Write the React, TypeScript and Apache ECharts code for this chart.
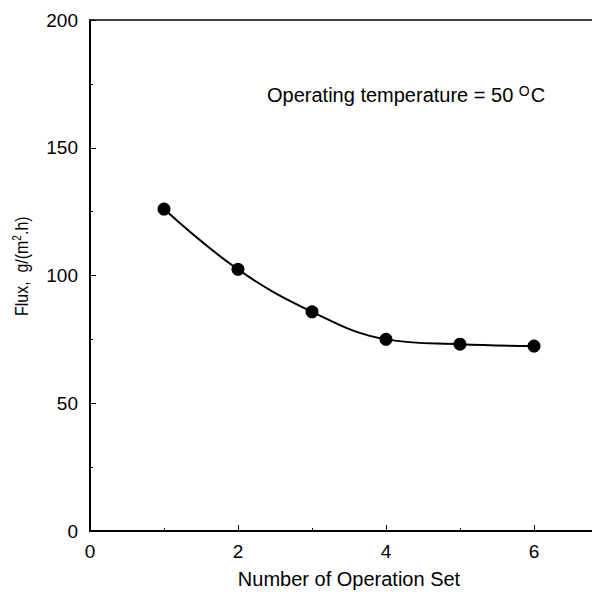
import React, { useEffect, useRef } from "react";
import * as echarts from "echarts";

const operationSets = [1, 2, 3, 4, 5, 6];
const fluxValues = [126, 102.4, 85.8, 75.0, 73.1, 72.4];
const xTicks = [0, 2, 4, 6];
const yTicks = [0, 50, 100, 150, 200];

const FONT = "'Liberation Sans', Arial, sans-serif";

export default function App() {
  const ref = useRef<HTMLDivElement>(null);

  useEffect(() => {
    if (!ref.current) return;
    const chart = echarts.init(ref.current, null, { renderer: "svg" });
    chart.setOption({
      animation: false,
      backgroundColor: "#ffffff",
      textStyle: { fontFamily: FONT, color: "#000" },
      grid: { left: 90, top: 20, width: 518, height: 511, show: true, borderColor: "#000", borderWidth: 1.5 },
      xAxis: {
        type: "value",
        min: 0,
        max: 7,
        interval: 2,
        axisLine: { show: true, lineStyle: { color: "#000", width: 2 } },
        axisTick: { inside: true, length: 6, lineStyle: { color: "#000", width: 1 } },
        minorTick: { show: true, splitNumber: 2, length: 3, lineStyle: { color: "#000" } },
        splitLine: { show: false },
        axisLabel: {
          margin: 11,
          fontSize: 19,
          color: "#000",
          fontFamily: FONT,
          formatter: (v: number) => (xTicks.includes(v) ? String(v) : ""),
        },
        name: "Number of Operation Set",
        nameLocation: "middle",
        nameGap: 38,
        nameTextStyle: { fontSize: 20, color: "#000", fontFamily: FONT },
      },
      yAxis: {
        type: "value",
        min: 0,
        max: 200,
        interval: 50,
        axisLine: { show: true, lineStyle: { color: "#000", width: 2 } },
        axisTick: { inside: true, length: 6, lineStyle: { color: "#000", width: 1 } },
        minorTick: { show: true, splitNumber: 2, length: 3, lineStyle: { color: "#000" } },
        splitLine: { show: false },
        axisLabel: {
          margin: 12,
          fontSize: 19,
          color: "#000",
          fontFamily: FONT,
          formatter: (v: number) => (yTicks.includes(v) ? String(v) : ""),
        },
      },
      graphic: [
        {
          type: "text",
          x: 267,
          y: 84,
          style: {
            text: "{n|Operating temperature = 50 }{s|O}{n|C}",
            fontFamily: FONT,
            rich: {
              n: { fontSize: 20, fontFamily: FONT, fill: "#000", verticalAlign: "bottom" },
              s: { fontSize: 14, fontFamily: FONT, fill: "#000", verticalAlign: "top", padding: [0, 1, 7, 0] },
            },
          },
        },
        {
          // condensed vertical axis title
          type: "text",
          x: 11,
          y: 316,
          rotation: Math.PI / 2,
          scaleX: 0.84,
          style: {
            text: "{n|Flux,  g/(m}{s|2}{n|.h)}",
            fontFamily: FONT,
            rich: {
              n: { fontSize: 19, fontFamily: FONT, fill: "#000" },
              s: { fontSize: 12, fontFamily: FONT, fill: "#000", padding: [0, 0, 9, 0] },
            },
          },
        },
      ],
      series: [
        {
          type: "line",
          data: operationSets.map((x, i) => [x, fluxValues[i]]),
          smooth: 0.4,
          symbol: "circle",
          symbolSize: 13,
          itemStyle: { color: "#000" },
          lineStyle: { color: "#000", width: 2 },
        },
      ],
    });
    return () => chart.dispose();
  }, []);

  return (
    <div style={{ width: 600, height: 598, margin: -8, overflow: "hidden", position: "relative" }}>
      <div ref={ref} style={{ width: 620, height: 598 }} />
    </div>
  );
}
